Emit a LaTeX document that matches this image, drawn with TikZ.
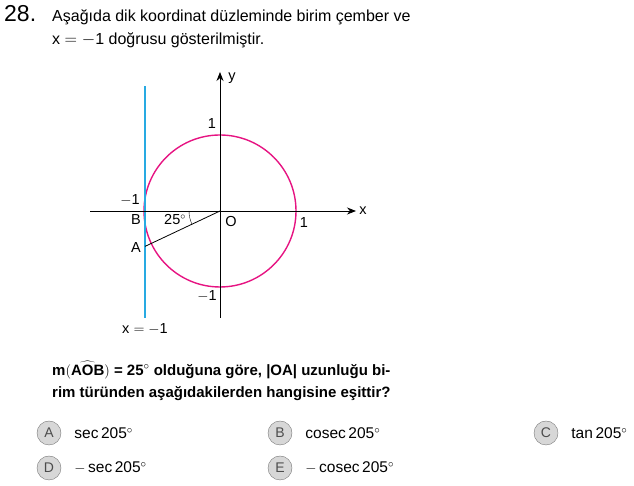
\documentclass[tikz,border=0pt]{standalone}
\usepackage{fontspec}
\setmainfont{Liberation Sans}
\usetikzlibrary{arrows.meta, positioning}
\definecolor{circlepink}{RGB}{230,20,130}
\definecolor{lineblue}{RGB}{40,170,226}
\definecolor{optgray}{RGB}{215,215,215}
\definecolor{optedge}{RGB}{120,120,120}

\begin{document}
\begin{tikzpicture}[
x=1pt, y=1pt,
axis/.style={thick,-{Stealth[length=9pt,width=7pt]}},
lbl/.style={inner sep=0pt, font=\fontsize{14.5}{16}\selectfont},
txt/.style={inner sep=0pt, anchor=west, font=\fontsize{16}{19}\selectfont},
opt/.style={circle, draw=optedge, fill=optgray, minimum size=24pt, inner sep=0pt, font=\fontsize{14}{16}\selectfont\color{black!70}},
ans/.style={inner sep=0pt, anchor=west, font=\fontsize{15.5}{18}\selectfont}
]
\useasboundingbox (0,0) rectangle (634,486);

% question text
\node (num) [inner sep=0pt, anchor=west, font=\fontsize{23}{25}\selectfont] at (4,472) {28.};
\node (line1) [txt] at (52,469) {Aşağıda dik koordinat düzleminde birim çember ve};
\node (line2) [txt] at (52,446) {x $=-$1 doğrusu gösterilmiştir.};

% axes and figure
\coordinate (O) at (220,275);
\coordinate (B) at (145,275);
\coordinate (A) at (145,239.6);
\coordinate (xl) at (90,275);
\coordinate (xr) at (356,275);
\coordinate (yb) at (220,168);
\coordinate (yt) at (220,414);
\coordinate (lt) at (145,400);
\coordinate (lb) at (145,168);

\draw [circlepink, line width=1.4pt] (O) circle (76);
\draw [lineblue, line width=1.4pt] (lb) -- (lt);
\draw [axis] (xl) -- (xr);
\draw [axis] (yb) -- (yt);
\draw [thick] (O) -- (A);
\draw [thin] ([shift={(180:31)}]O) arc (180:205:31);

\node (ylab) [lbl] at (232,408) {y};
\node (xlab) [lbl] at (363,275) {x};
\node (one1) [lbl] at (212,362) {1};
\node (mone1) [lbl] at (130,286) {$-$1};
\node (blab) [lbl] at (136,266) {B};
\node (ang) [lbl] at (175,266) {25$^\circ$};
\node (olab) [lbl] at (231,264) {O};
\node (one2) [lbl] at (304,263) {1};
\node (alab) [lbl] at (136,238) {A};
\node (mone2) [lbl] at (207,190) {$-$1};
\node (eq) [lbl] at (145,157) {x $=-$1};

% question
\node (q1) [txt, font=\fontsize{15}{18}\selectfont\bfseries] at (52,116) {m$\Bigl($$\widehat{\mbox{\bfseries AOB}}$$\Bigr)$ = 25$^\circ$ olduğuna göre, |OA| uzunluğu bi-};
\node (q2) [txt, font=\fontsize{15}{18}\selectfont\bfseries] at (52,92) {rim türünden aşağıdakilerden hangisine eşittir?};

% options
\node (oa) [opt] at (49,53) {A};
\node (ob) [opt] at (280,53) {B};
\node (oc) [opt] at (546,53) {C};
\node (od) [opt] at (49,18) {D};
\node (oe) [opt] at (280,18) {E};
\node [ans, right=13pt of oa] {sec\,205$^\circ$};
\node [ans, right=13pt of ob] {cosec\,205$^\circ$};
\node [ans, right=13pt of oc] {tan\,205$^\circ$};
\node [ans, right=13pt of od] {$-$\,sec\,205$^\circ$};
\node [ans, right=13pt of oe] {$-$\,cosec\,205$^\circ$};
\end{tikzpicture}
\end{document}
